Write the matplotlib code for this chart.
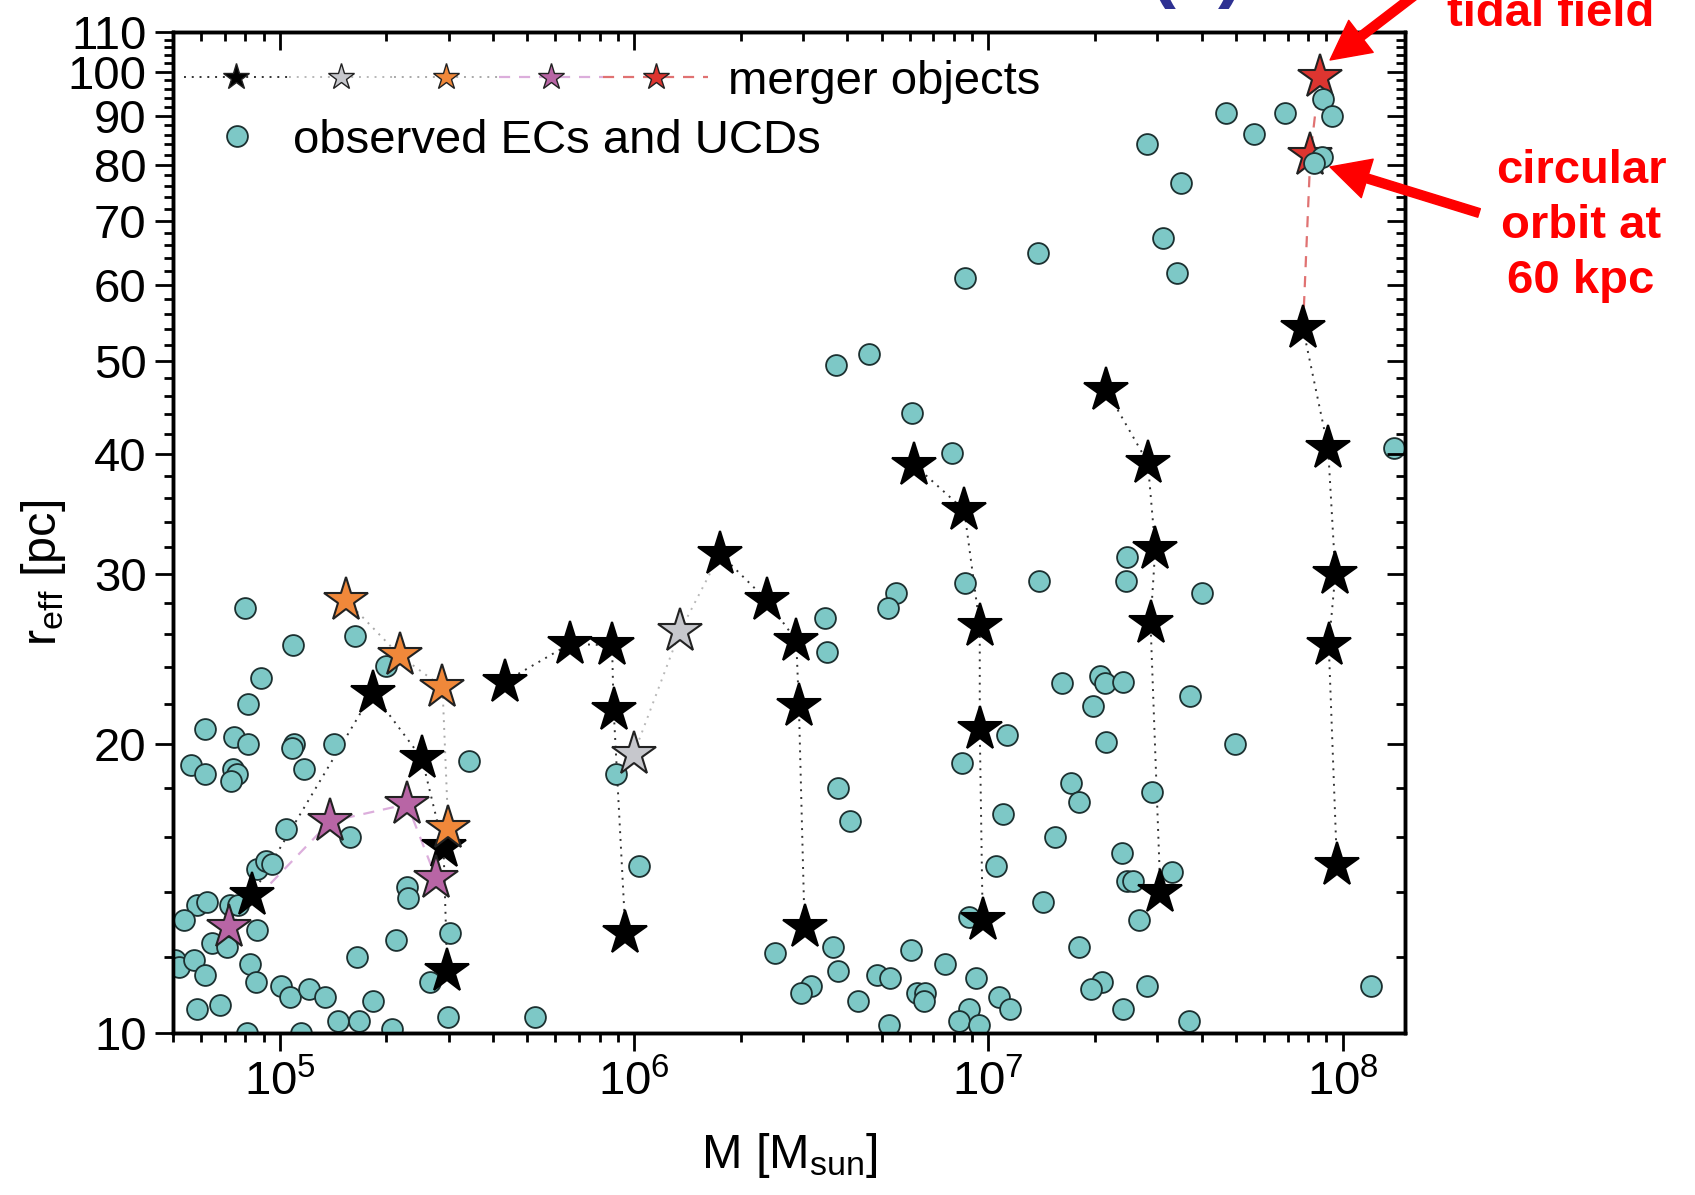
import matplotlib
matplotlib.use("Agg")
import matplotlib.pyplot as plt
from matplotlib.ticker import MultipleLocator, NullFormatter, FuncFormatter
from matplotlib.lines import Line2D
from matplotlib.legend_handler import HandlerTuple
from matplotlib.patches import FancyArrowPatch

plt.rcParams['font.family'] = ['Liberation Sans', 'DejaVu Sans']
plt.rcParams['mathtext.fontset'] = 'custom'
plt.rcParams['mathtext.rm'] = 'Liberation Sans'
plt.rcParams['mathtext.it'] = 'Liberation Sans:italic'
plt.rcParams['mathtext.bf'] = 'Liberation Sans:bold'
plt.rcParams['mathtext.default'] = 'regular'

# observed extended clusters and UCDs
obs_mass = [7.98e4, 1.09e5, 1.63e5, 8.85e4, 8.16e4, 6.15e4, 7.45e4, 8.16e4, 1.10e5, 1.08e5,
            1.42e5, 5.62e4, 6.15e4, 7.40e4, 7.56e4, 7.29e4, 1.17e5, 3.43e5, 1.04e5, 1.58e5,
            2.00e5, 8.61e4, 9.15e4, 9.49e4, 5.83e4, 6.22e4, 7.24e4, 7.65e4, 5.38e4, 8.61e4,
            6.43e4, 7.08e4, 2.28e5, 2.30e5, 2.13e5, 3.03e5, 1.65e5, 2.66e5, 5.06e4, 5.18e4,
            5.74e4, 6.15e4, 8.24e4, 8.57e4, 1.01e5, 1.07e5, 1.21e5, 1.34e5, 1.83e5, 5.86e4,
            6.78e4, 1.46e5, 1.67e5, 2.07e5, 2.98e5, 5.26e5, 8.07e4, 1.15e5,
            3.47e6, 3.51e6, 5.49e6, 5.21e6, 8.58e6, 8.43e6, 8.90e5, 1.03e6, 3.76e6, 4.08e6,
            8.80e6, 2.50e6, 3.65e6, 3.77e6, 3.16e6, 2.96e6, 4.29e6, 4.85e6, 5.29e6, 6.07e6,
            7.53e6, 6.29e6, 6.62e6, 6.57e6, 9.23e6, 8.80e6, 8.29e6, 9.40e6, 5.26e6,
            1.10e7, 1.05e7, 1.13e7, 2.46e7, 2.45e7, 1.39e7, 4.01e7, 1.61e7, 2.06e7, 2.13e7,
            2.40e7, 1.98e7, 3.72e7, 2.15e7, 4.98e7, 1.71e7, 1.80e7, 2.90e7, 1.54e7, 2.38e7,
            3.29e7, 2.46e7, 2.56e7, 1.43e7, 2.66e7, 1.80e7, 2.09e7, 1.95e7, 2.80e7, 1.07e7,
            1.15e7, 2.40e7, 3.68e7, 1.20e8, 8.80e7, 9.33e7, 4.70e7, 6.87e7, 5.61e7, 2.80e7,
            8.75e7, 8.29e7, 3.50e7, 3.11e7, 1.38e7, 3.40e7, 1.40e8, 8.62e6, 4.62e6, 3.72e6,
            6.09e6, 7.90e6]
obs_reff = [27.7, 25.3, 25.9, 23.4, 22.0, 20.7, 20.3, 20.0, 20.0, 19.8,
            20.0, 19.0, 18.6, 18.8, 18.6, 18.3, 18.8, 19.2, 16.3, 16.0,
            24.1, 14.8, 15.1, 15.0, 13.6, 13.7, 13.6, 13.6, 13.1, 12.8,
            12.4, 12.3, 14.2, 13.8, 12.5, 12.7, 12.0, 11.3, 11.9, 11.7,
            11.9, 11.5, 11.8, 11.3, 11.2, 10.9, 11.1, 10.9, 10.8, 10.6,
            10.7, 10.3, 10.3, 10.1, 10.4, 10.4, 10.0, 10.0,
            27.0, 24.9, 28.7, 27.7, 29.4, 19.1, 18.6, 14.9, 18.0, 16.6,
            13.2, 12.1, 12.3, 11.6, 11.2, 11.0, 10.8, 11.5, 11.4, 12.2,
            11.8, 11.0, 11.0, 10.8, 11.4, 10.6, 10.3, 10.2, 10.2,
            16.9, 14.9, 20.4, 31.3, 29.5, 29.5, 28.7, 23.1, 23.5, 23.1,
            23.2, 21.9, 22.4, 20.1, 20.0, 18.2, 17.4, 17.8, 16.0, 15.4,
            14.7, 14.4, 14.4, 13.7, 13.1, 12.3, 11.3, 11.1, 11.2, 10.9,
            10.6, 10.6, 10.3, 11.2, 93.6, 90.0, 90.5, 90.5, 86.1, 84.1,
            81.5, 80.4, 76.6, 67.2, 64.8, 61.7, 40.6, 61.0, 50.8, 49.5,
            44.2, 40.1]

# merger object tracks (black), one list per sequence
black_tracks_m = [[8.34e4, 1.83e5, 2.52e5, 2.90e5, 2.97e5],
                  [4.32e5, 6.60e5, 8.67e5, 8.76e5, 9.46e5],
                  [1.75e6, 2.37e6, 2.87e6, 2.92e6, 3.03e6],
                  [6.18e6, 8.55e6, 9.46e6, 9.46e6, 9.64e6],
                  [2.15e7, 2.82e7, 2.96e7, 2.87e7, 3.06e7],
                  [7.73e7, 9.10e7, 9.54e7, 9.14e7, 9.64e7]]
black_tracks_r = [[13.9, 22.6, 19.3, 15.6, 11.6],
                  [23.2, 25.4, 25.3, 21.7, 12.7],
                  [31.5, 28.2, 25.6, 21.9, 12.9],
                  [39.0, 35.0, 26.5, 20.7, 13.1],
                  [46.7, 39.2, 31.9, 26.7, 14.0],
                  [54.1, 40.6, 30.0, 25.3, 14.95]]

gray_m = [9.98e5, 1.35e6]
gray_r = [19.5, 26.2]
orange_m = [1.54e5, 2.18e5, 2.88e5, 2.99e5]
orange_r = [28.2, 24.7, 22.9, 16.35]
magenta_m = [7.19e4, 1.39e5, 2.29e5, 2.76e5]
magenta_r = [12.9, 16.6, 17.3, 14.5]
red_m = [8.61e7, 8.11e7]
red_r = [98.8, 81.9]

OBS_FC = '#7dc8c6'
OBS_EC = '#1c3030'
STAR_MS = 33
OBS_MS = 15

black_line = dict(color='#333333', lw=1.4, ls=(0, (1, 3)))
gray_line = dict(color='#b8b8b8', lw=1.4, ls=(0, (1, 3)))
orange_line = dict(color='#a8a8a8', lw=1.4, ls=(0, (1, 3)))
magenta_line = dict(color='#dcaedc', lw=1.6, ls=(0, (5, 4)))
red_line = dict(color='#e07272', lw=1.6, ls=(0, (5, 4)))

fig = plt.figure(figsize=(16.95, 11.95), dpi=100)
ax = fig.add_axes([0.1021, 0.1356, 0.7268, 0.8377])

# connecting lines
for tm, tr in zip(black_tracks_m, black_tracks_r):
    ax.plot(tm, tr, zorder=2, **black_line)
ax.plot(gray_m + black_tracks_m[2][:1], gray_r + black_tracks_r[2][:1], zorder=2, **gray_line)
ax.plot(orange_m, orange_r, zorder=2, **orange_line)
ax.plot(magenta_m, magenta_r, zorder=2, **magenta_line)
ax.plot(red_m + black_tracks_m[5][:1], red_r + black_tracks_r[5][:1], zorder=2, **red_line)

ax.plot(red_m, red_r, ls='none', marker='*', ms=STAR_MS, mfc='#dd3530', mec='#222222', mew=1.5, zorder=2.5)
ax.plot(obs_mass, obs_reff, ls='none', marker='o', ms=OBS_MS, mfc=OBS_FC, mec=OBS_EC, mew=1.3, zorder=3)
for tm, tr in zip(black_tracks_m, black_tracks_r):
    ax.plot(tm, tr, ls='none', marker='*', ms=STAR_MS, mfc='black', mec='black', mew=1.5, zorder=4)
ax.plot(gray_m, gray_r, ls='none', marker='*', ms=STAR_MS, mfc='#c6c7cc', mec='#222222', mew=1.5, zorder=4)
ax.plot(orange_m, orange_r, ls='none', marker='*', ms=STAR_MS, mfc='#f0883a', mec='#222222', mew=1.5, zorder=4)
ax.plot(magenta_m, magenta_r, ls='none', marker='*', ms=STAR_MS, mfc='#b865a5', mec='#222222', mew=1.5, zorder=4)

ax.set_xscale('log')
ax.set_yscale('log')
ax.set_xlim(5e4, 1.5e8)
ax.set_ylim(10, 110)

ax.yaxis.set_major_locator(MultipleLocator(10))
ax.yaxis.set_minor_locator(MultipleLocator(2))
ax.yaxis.set_major_formatter(FuncFormatter(lambda v, _: f'{v:.0f}'))
ax.yaxis.set_minor_formatter(NullFormatter())

ax.tick_params(axis='both', which='both', direction='out', width=2, labelsize=34)
ax.tick_params(axis='both', which='major', length=13)
ax.tick_params(axis='both', which='minor', length=6.5)
ax.tick_params(axis='x', which='major', pad=7)
ax.tick_params(axis='y', which='major', pad=6)
for sp in ax.spines.values():
    sp.set_linewidth(2.4)

# mirrored ticks pointing inward on top and right
ax_top = ax.twiny()
ax_top.set_xscale('log')
ax_top.set_xlim(ax.get_xlim())
ax_top.tick_params(axis='x', which='both', direction='in', width=2, labeltop=False)
ax_top.tick_params(axis='x', which='major', length=13)
ax_top.tick_params(axis='x', which='minor', length=6.5)
ax_right = ax.twinx()
ax_right.set_yscale('log')
ax_right.set_ylim(ax.get_ylim())
ax_right.yaxis.set_major_locator(MultipleLocator(10))
ax_right.yaxis.set_minor_locator(MultipleLocator(2))
ax_right.tick_params(axis='y', which='both', direction='in', width=2, labelright=False)
ax_right.tick_params(axis='y', which='major', length=13)
ax_right.tick_params(axis='y', which='minor', length=6.5)
for a in (ax_top, ax_right):
    for sp in a.spines.values():
        sp.set_linewidth(2.4)

ax.set_xlabel(r'M [M$_{\mathrm{sun}}$]', fontsize=35, labelpad=18)
ax.set_ylabel(r'r$_{\mathrm{eff}}$ [pc]', fontsize=35)
ax.yaxis.set_label_coords(-0.085, 0.46)

# legend
star_styles = [('black', black_line), ('#c6c7cc', gray_line), ('#f0883a', orange_line),
               ('#b865a5', magenta_line), ('#dd3530', red_line)]
star_handles = tuple(Line2D([], [], marker='*', ms=20, mfc=fc, mec='#222222', mew=1.0, **st)
                     for fc, st in star_styles)
leg1 = ax.legend([star_handles], ['merger objects'],
                 handler_map={tuple: HandlerTuple(ndivide=None, pad=0)},
                 loc='center left', bbox_to_anchor=(0.0089, 0.950), frameon=False,
                 fontsize=34, handlelength=11.1, handletextpad=0.42,
                 borderpad=0, borderaxespad=0)
ax.add_artist(leg1)
obs_handle = Line2D([], [], ls='none', marker='o', ms=OBS_MS, mfc=OBS_FC, mec=OBS_EC, mew=1.3)
ax.legend([obs_handle], ['observed ECs and UCDs'], loc='center left',
          bbox_to_anchor=(0.0089, 0.891), frameon=False, fontsize=34,
          handlelength=2.25, handletextpad=0.05, borderpad=0, borderaxespad=0)

# annotations (the panel label and the top line are cut by the image edge, as in the original)
fig.text(0.7062, 1.0059, '(c)', fontsize=56, fontweight='bold', color='#2e3192',
         ha='center', va='baseline')
fig.text(0.915, 0.9782, 'tidal field', fontsize=34, fontweight='bold', color='red',
         ha='center', va='baseline')
fig.text(0.9327, 0.7548, 'circular\norbit at\n60 kpc', fontsize=34, fontweight='bold',
         color='red', ha='center', va='baseline', multialignment='center', linespacing=1.33)

arrow_style = 'simple, head_length=1.4, head_width=1.45, tail_width=0.32'
for tail, tip in [((0.8726, 0.8218), (0.7847, 0.8603)),
                  ((0.8525, 1.0234), (0.7847, 0.9498))]:
    fig.add_artist(FancyArrowPatch(tail, tip, transform=fig.transFigure,
                                   arrowstyle=arrow_style, mutation_scale=20,
                                   color='red', shrinkA=0, shrinkB=0))

fig.savefig('out.png', dpi=100)
